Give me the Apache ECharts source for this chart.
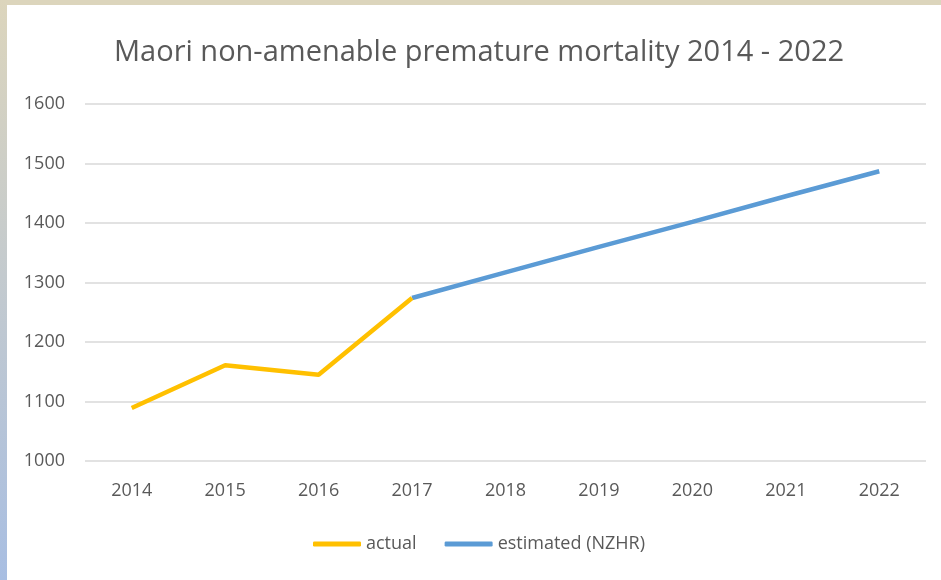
<!DOCTYPE html>
<html><head><meta charset="utf-8">
<script src="https://cdn.jsdelivr.net/npm/echarts@6/dist/echarts.min.js"></script>
<style>html,body{margin:0;padding:0;background:#fff}#c{width:941px;height:580px}</style>
</head><body><div id="c"></div>
<script>
const years = ['2014','2015','2016','2017','2018','2019','2020','2021','2022'];
const actual = [1089, 1161, 1145, 1274, null, null, null, null, null];
const estimated = [null, null, null, 1274, 1317, 1360, 1402, 1445, 1487];
const seriesNames = ['actual', 'estimated (NZHR)'];
const chartTitle = 'Maori non-amenable premature mortality 2014 - 2022';

const chart = echarts.init(document.getElementById('c'));
const font = '"Open Sans", "Noto Sans", sans-serif';
chart.setOption({
  backgroundColor: '#ffffff',
  animation: false,
  graphic: [
    {type:'rect', left:0, top:0, shape:{width:941, height:5}, style:{fill:'#dcd5bc'}, z:10},
    {type:'rect', left:0, top:0, shape:{width:7, height:580}, style:{fill:new echarts.graphic.LinearGradient(0,0,0,1,[{offset:0,color:'#dcd5bc'},{offset:1,color:'#a8bee2'}])}, z:10}
  ],
  title: {
    text: chartTitle, left: 109, top: 33,
    textStyle: {fontFamily: font, fontSize: 29, fontWeight: 'normal', color: '#595959'}
  },
  legend: {
    bottom: 22, left: 308, itemGap: 28, itemWidth: 48, itemHeight: 5, icon: 'roundRect',
    textStyle: {fontFamily: font, fontSize: 18, color: '#595959'},
    data: seriesNames
  },
  grid: {left: 85, right: 15, top: 104, bottom: 119},
  xAxis: {
    type: 'category', data: years, boundaryGap: true,
    axisLine: {show: false}, axisTick: {show: false},
    axisLabel: {fontFamily: font, fontSize: 18, color: '#595959', margin: 21}
  },
  yAxis: {
    type: 'value', min: 1000, max: 1600, interval: 100,
    axisLine: {show: false}, axisTick: {show: false},
    splitLine: {lineStyle: {color: '#d9d9d9', width: 1.5}},
    axisLabel: {fontFamily: font, fontSize: 18, color: '#595959', margin: 20, align: 'right',
      formatter: v => String(v)}
  },
  series: [
    {name: seriesNames[0], type: 'line', data: actual, symbol: 'none', color: '#ffc000',
     lineStyle: {width: 4.5, color: '#ffc000'}, z: 3},
    {name: seriesNames[1], type: 'line', data: estimated, symbol: 'none', color: '#5b9bd5',
     lineStyle: {width: 4.5, color: '#5b9bd5'}, z: 2}
  ]
});
</script></body></html>
